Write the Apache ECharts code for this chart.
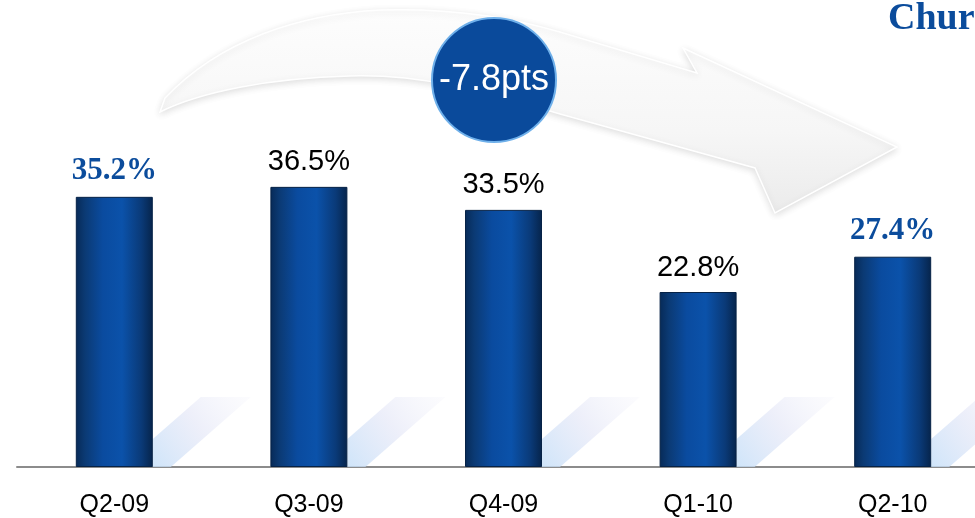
<!DOCTYPE html>
<html>
<head>
<meta charset="utf-8">
<script src="https://cdn.jsdelivr.net/npm/echarts@6/dist/echarts.min.js"></script>
<style>
  html, body { margin: 0; padding: 0; background: #ffffff; }
  #chart { width: 975px; height: 518px; }
</style>
</head>
<body>
<div id="chart"></div>
<script>
// Quarterly churn rate (%)
const quarters = ['Q2-09', 'Q3-09', 'Q4-09', 'Q1-10', 'Q2-10'];
const churnRate = [35.2, 36.5, 33.5, 22.8, 27.4];
// Quarters whose value label is emphasised in blue serif
const highlighted = [true, false, false, false, true];
const changeLabel = '-7.8pts';
const titleText = 'Churn';

const chart = echarts.init(document.getElementById('chart'));

function linear(x, y, x2, y2, stops) {
  return {
    type: 'linear', x: x, y: y, x2: x2, y2: y2,
    colorStops: stops.map(s => ({ offset: s[0], color: s[1] }))
  };
}

const barFill = linear(0, 0, 1, 0, [
  [0.00, '#072a57'],
  [0.12, '#0b3a74'],
  [0.35, '#0a4b9f'],
  [0.60, '#0b52aa'],
  [0.85, '#0a3a78'],
  [1.00, '#06244b']
]);

const labelBlue = {
  fontFamily: '"Liberation Serif", "Times New Roman", serif',
  fontWeight: 'bold',
  fontSize: 31,
  color: '#0b4c9c'
};
const labelPlain = {
  fontFamily: '"Liberation Sans", Arial, sans-serif',
  fontWeight: 'normal',
  fontSize: 29,
  color: '#000000'
};

// Soft floor reflection drawn next to each bar
function renderReflection(params, api) {
  const base = api.coord([api.value(0), 0]);
  const x = base[0] + 38.5;
  const y = base[1];
  return {
    type: 'polygon',
    shape: {
      points: [[x, y], [x + 18, y], [x + 98, y - 70], [x + 48, y - 70], [x, y - 28]]
    },
    style: {
      fill: linear(0, 1, 1, 0, [
        [0, 'rgba(195,222,248,0.8)'],
        [0.5, 'rgba(225,228,246,0.6)'],
        [1, 'rgba(242,242,250,0.25)']
      ])
    },
    silent: true
  };
}

// Sweeping arrow behind the change badge (pixel-space decoration)
function renderArrow() {
  return {
    type: 'path',
    shape: {
      pathData: 'M 160 112 C 200 92 270 78 350 76 C 420 74 480 90 560 114 L 755 168 L 775 213 L 897 147 L 683 48 L 697 73 L 560 32 C 500 14 440 8 380 10 C 300 14 220 40 165 98 Z'
    },
    style: {
      fill: linear(0, 0, 0, 1, [
        [0, '#fdfdfd'],
        [0.6, '#f6f6f6'],
        [1, '#ebebeb']
      ]),
      stroke: '#ffffff',
      lineWidth: 1.5,
      shadowBlur: 7,
      shadowOffsetY: 2,
      shadowColor: 'rgba(0,0,0,0.12)'
    },
    silent: true
  };
}

const option = {
  animation: false,
  backgroundColor: '#ffffff',
  grid: { left: 17, right: -15, top: 160, bottom: 51, outerBoundsMode: 'none' },
  xAxis: {
    type: 'category',
    data: quarters,
    axisLine: { show: true, lineStyle: { color: '#8c8c8c', width: 2 } },
    axisTick: { show: false },
    axisLabel: {
      margin: 26,
      fontFamily: '"Liberation Sans", Arial, sans-serif',
      fontSize: 25,
      color: '#000000'
    }
  },
  yAxis: {
    type: 'value',
    min: 0,
    max: 40,
    show: false,
    splitLine: { show: false }
  },
  graphic: [
    {
      type: 'circle',
      z: 10,
      shape: { cx: 494, cy: 80, r: 62 },
      style: {
        fill: '#0a4a9b',
        stroke: '#6fb0ea',
        lineWidth: 2
      }
    },
    {
      type: 'text',
      z: 11,
      x: 494,
      y: 80,
      style: {
        text: changeLabel,
        fill: '#ffffff',
        font: '36px "Liberation Sans", Arial, sans-serif',
        align: 'center',
        verticalAlign: 'middle'
      }
    },
    {
      type: 'text',
      z: 11,
      x: 888,
      y: 0,
      style: {
        text: titleText,
        fill: '#0b4c9c',
        font: 'bold 38px "Liberation Serif", "Times New Roman", serif'
      }
    }
  ],
  series: [
    {
      type: 'custom',
      renderItem: renderArrow,
      data: [[0, 0]],
      z: 0,
      silent: true,
      clip: false
    },
    {
      type: 'custom',
      renderItem: renderReflection,
      data: churnRate.map((v, i) => [i, v]),
      z: 1,
      silent: true
    },
    {
      type: 'bar',
      z: 3,
      barWidth: 77,
      data: churnRate.map((v, i) => ({
        value: v,
        label: highlighted[i] ? labelBlue : labelPlain
      })),
      itemStyle: {
        color: barFill,
        borderColor: '#062246',
        borderWidth: 1
      },
      label: {
        show: true,
        position: 'top',
        distance: 10,
        formatter: p => p.value.toFixed(1) + '%'
      }
    }
  ]
};

chart.setOption(option);
</script>
</body>
</html>
